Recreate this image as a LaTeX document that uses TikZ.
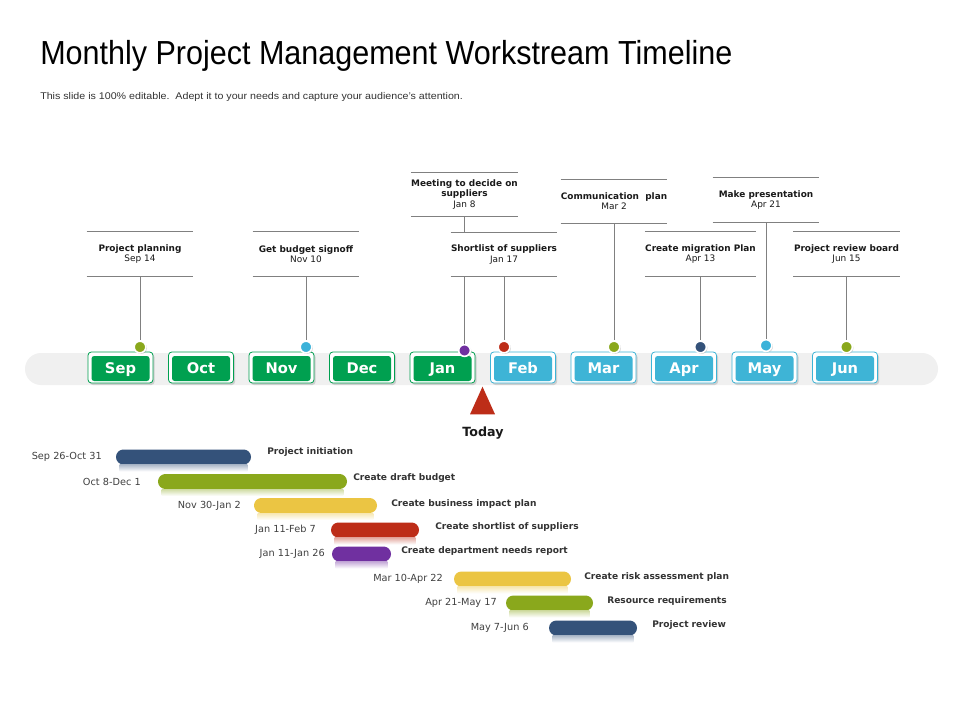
\documentclass[tikz,border=0pt]{standalone}
\usepackage{fontspec}
\usepackage{graphicx}
\setmainfont{DejaVu Sans}
\newfontfamily\titlefont{Liberation Sans}
\usetikzlibrary{shadows}
\definecolor{mgreen}{HTML}{00A050}
\definecolor{mblue}{HTML}{3EB4D6}
\definecolor{olive}{HTML}{8AA81C}
\definecolor{dkblue}{HTML}{34527A}
\definecolor{ylw}{HTML}{EBC543}
\definecolor{redc}{HTML}{BD2D18}
\definecolor{purp}{HTML}{7030A0}
\definecolor{ltblue}{HTML}{3BB2D9}
\definecolor{bandgray}{HTML}{F0F0F0}
\definecolor{lgray}{HTML}{808080}
\definecolor{txt}{HTML}{1A1A1A}
\tikzset{
  mframe/.style={draw=#1, line width=0.6pt, fill=white, rounded corners=2.5pt,
    minimum width=48.75pt, minimum height=23.25pt, inner sep=0,
    drop shadow={opacity=0.3, shadow xshift=1.2pt, shadow yshift=-1.5pt}},
  minner/.style={fill=#1, rounded corners=2pt, minimum width=43.5pt,
    minimum height=18.75pt, inner sep=0, text=white, text height=8pt, text depth=0pt,
    font=\fontsize{11}{13}\selectfont\bfseries},
  dot/.style={circle, fill=#1, draw=white, line width=1.2pt, minimum size=8.8pt,
    inner sep=0, drop shadow={opacity=0.35, shadow xshift=0.8pt, shadow yshift=-0.8pt}},
  lline/.style={draw=lgray, line width=0.6pt},
  lab/.style={minimum width=79.5pt, minimum height=33pt, inner sep=0, align=center,
    text=txt, font=\fontsize{6.7}{7.6}\selectfont,
    append after command={(\tikzlastnode.north west) edge[lline] (\tikzlastnode.north east)
      (\tikzlastnode.south west) edge[lline] (\tikzlastnode.south east)}},
  conn/.style={draw=lgray, line width=0.6pt},
  bar/.style={fill=#1, rounded corners=5.6pt, minimum height=11.25pt, inner sep=0},
  ldate/.style={anchor=east, inner sep=0, text=black!75, font=\fontsize{7.3}{8.5}\selectfont},
  ltask/.style={anchor=west, inner sep=0, text=black!80, font=\fontsize{6.8}{8}\selectfont\bfseries},
}
\newcommand\monthbox[4]{%
  \node[mframe=#4] (#1f) at (#2,367.5) {};
  \node[minner=#4] (#1) at (#2,368.5) {#3};}
\newcommand\reflect[2]{%
  \shade[top color=#2!40, bottom color=white] ([xshift=3pt]#1.south west) rectangle ([xshift=-3pt,yshift=-5pt]#1.south east);}
\begin{document}
\begin{tikzpicture}[x=0.75pt,y=-0.75pt]
\fill[white] (0,0) rectangle (960,720);
\useasboundingbox (0,0) rectangle (960,720);

% title
\node (title) [anchor=base west, inner sep=0] at (40,65)
  {\resizebox{519pt}{\height}{\titlefont\fontsize{25}{30}\selectfont Monthly Project Management Workstream Timeline}};
\node (sub) [anchor=base west, inner sep=0, text=black!80] at (40,100)
  {\resizebox{317pt}{\height}{\titlefont\fontsize{7.3}{9}\selectfont This slide is 100\% editable.\ \ Adept it to your needs and capture your audience’s attention.}};

% band
\node (band) [fill=bandgray, rounded corners=12pt, minimum width=684.75pt, minimum height=24pt, inner sep=0] at (481.5,369) {};

% months
\monthbox{sep}{120.5}{Sep}{mgreen}
\monthbox{oct}{201}{Oct}{mgreen}
\monthbox{nov}{281.5}{Nov}{mgreen}
\monthbox{dec}{362}{Dec}{mgreen}
\monthbox{jan}{442.5}{Jan}{mgreen}
\monthbox{feb}{523}{Feb}{mblue}
\monthbox{mar}{603.5}{Mar}{mblue}
\monthbox{apr}{684}{Apr}{mblue}
\monthbox{may}{764.5}{May}{mblue}
\monthbox{jun}{845}{Jun}{mblue}

% dots
\node[dot=olive]  (dsep) at (140,347) {};
\node[dot=ltblue] (dnov) at (306,347) {};
\node[dot=purp]   (djan) at (464.5,350.5) {};
\node[dot=redc]   (dfeb) at (504,347) {};
\node[dot=olive]  (dmar) at (614,347) {};
\node[dot=dkblue] (dapr) at (700.5,347) {};
\node[dot=ltblue] (dmay) at (766,345.5) {};
\node[dot=olive]  (djun) at (846.5,347) {};

% milestone labels
\node[lab] (l1) at (140,254) {\textbf{Project planning}\\Sep 14};
\node[lab] (l2) at (306,254) {\textbf{Get budget signoff}\\Nov 10};
\node[lab] (l3) at (464.5,194.5) {\textbf{Meeting to decide on}\\\textbf{suppliers}\\Jan 8};
\draw[conn] (l3.south) -- (djan.north);
\node[lab, fill=white] (l4) at (504,254.5) {\textbf{Shortlist of suppliers}\\Jan 17};
\node[lab] (l5) at (614,201.5) {\textbf{Communication\ \ plan}\\Mar 2};
\node[lab] (l6) at (700.5,254) {\textbf{Create migration\ Plan}\\Apr 13};
\node[lab] (l7) at (766,200) {\textbf{Make presentation}\\Apr 21};
\node[lab] (l8) at (846.5,254) {\textbf{Project review board}\\Jun 15};

\draw[conn] (l1.south) -- (dsep.north);
\draw[conn] (l2.south) -- (dnov.north);
\draw[conn] (l4.south) -- (dfeb.north);
\draw[conn] (l5.south) -- (dmar.north);
\draw[conn] (l6.south) -- (dapr.north);
\draw[conn] (l7.south) -- (dmay.north);
\draw[conn] (l8.south) -- (djun.north);

% today
\fill[redc] (470,414.3) -- (482.5,386.7) -- (495,414.3) -- cycle;
\node (today) [inner sep=0, font=\fontsize{9.5}{11}\selectfont\bfseries, text=txt] at (483,433.5) {Today};

% gantt bars
\node[bar=dkblue, minimum width=101.25pt] (b1) at (183.5,457) {};
\node[bar=olive,  minimum width=141.75pt] (b2) at (252.5,481.5) {};
\node[bar=ylw,    minimum width=92.25pt]  (b3) at (315.5,505.5) {};
\node[bar=redc,   minimum width=66pt]     (b4) at (375,530) {};
\node[bar=purp,   minimum width=44.25pt]  (b5) at (361.5,554) {};
\node[bar=ylw,    minimum width=87.75pt]  (b6) at (512.5,579) {};
\node[bar=olive,  minimum width=65.25pt]  (b7) at (549.5,603) {};
\node[bar=dkblue, minimum width=66pt]     (b8) at (593,628) {};
\reflect{b1}{dkblue}
\reflect{b2}{olive}
\reflect{b3}{ylw}
\reflect{b4}{redc}
\reflect{b5}{purp}
\reflect{b6}{ylw}
\reflect{b7}{olive}
\reflect{b8}{dkblue}

\node[ldate] (s1) at (102,457) {Sep 26-Oct 31};
\node[ldate] (s2) at (141,481.5) {Oct 8-Dec 1};
\node[ldate] (s3) at (241,505.5) {Nov 30-Jan 2};
\node[ldate] (s4) at (316,530) {Jan 11-Feb 7};
\node[ldate] (s5) at (325,554) {Jan 11-Jan 26};
\node[ldate] (s6) at (443,579) {Mar 10-Apr 22};
\node[ldate] (s7) at (497,603) {Apr 21-May 17};
\node[ldate] (s8) at (529,628) {May 7-Jun 6};

\node[ltask] (t1) at (267,452) {Project initiation};
\node[ltask] (t2) at (353,478) {Create draft budget};
\node[ltask] (t3) at (391,503.5) {Create business\ impact plan};
\node[ltask] (t4) at (435,527) {Create shortlist of suppliers};
\node[ltask] (t5) at (401,551) {Create department\ needs report};
\node[ltask] (t6) at (584,576.5) {Create risk assessment\ plan};
\node[ltask] (t7) at (607,600.5) {Resource\ requirements};
\node[ltask] (t8) at (652,625.5) {Project review};
\end{tikzpicture}
\end{document}
